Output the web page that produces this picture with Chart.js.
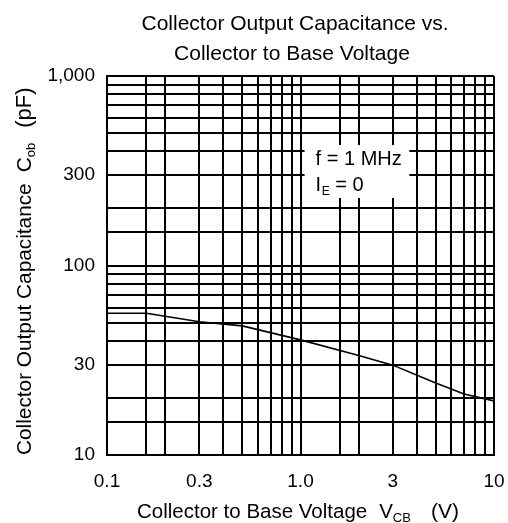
<!DOCTYPE html>
<html>
<head>
<meta charset="utf-8">
<script src="https://cdn.jsdelivr.net/npm/chart.js@4"></script>
<style>
  html, body { margin: 0; padding: 0; background: #fff; }
  #wrap { width: 508px; height: 523px; position: relative; }
</style>
</head>
<body>
<div id="wrap"><canvas id="c" width="508" height="523"></canvas></div>
<script>
// ---- data ----
const vcbVolts = [0.1, 0.16, 0.3, 0.5, 1.0, 2, 3, 5, 7, 10];
const cobPicofarads = [56, 56, 50.5, 48, 40.5, 33.5, 29.8, 24, 21, 19.3];

const xGridValues = [0.1, 0.16, 0.2, 0.3, 0.4, 0.5, 0.6, 0.7, 0.8, 0.9, 1, 1.6, 2, 3, 4, 5, 6, 7, 8, 9, 10];
const xLabelValues = [0.1, 0.3, 1, 3, 10];
const xLabelTexts = ['0.1', '0.3', '1.0', '3', '10'];

const yGridValues = [10, 15, 20, 30, 40, 50, 60, 70, 80, 90, 100, 150, 200, 300, 400, 500, 600, 700, 800, 900, 1000];
const yLabelValues = [10, 30, 100, 300, 1000];
const yLabelTexts = ['10', '30', '100', '300', '1,000'];

const titleLines = ['Collector Output Capacitance vs.', 'Collector to Base Voltage'];
const noteLine1 = 'f = 1 MHz';
const noteLine2 = ['I', 'E', ' = 0'];

const FONT = '"Liberation Sans", Arial, sans-serif';

function labelFor(values, texts, v) {
  for (let i = 0; i < values.length; i++) {
    if (Math.abs(values[i] - v) < 1e-9 * Math.max(1, v)) return texts[i];
  }
  return '';
}

const textPlugin = {
  id: 'texts',
  afterDraw(chart) {
    const ctx = chart.ctx;
    const xs = chart.scales.x, ys = chart.scales.y;
    ctx.save();
    ctx.fillStyle = '#000';
    // main title
    ctx.font = '21px ' + FONT;
    ctx.textAlign = 'center';
    ctx.textBaseline = 'alphabetic';
    ctx.fillText(titleLines[0], 295, 30);
    ctx.fillText(titleLines[1], 292, 60);

    // annotation box
    const bx0 = xs.getPixelForValue(1.05), bx1 = xs.getPixelForValue(3.65);
    const by0 = ys.getPixelForValue(432), by1 = ys.getPixelForValue(227);
    ctx.fillStyle = '#fff';
    ctx.fillRect(bx0, by0, bx1 - bx0, by1 - by0);
    ctx.fillStyle = '#000';
    ctx.textAlign = 'left';
    ctx.font = '20px ' + FONT;
    ctx.fillText(noteLine1, bx0 + 11, by0 + 20);
    let tx = bx0 + 11;
    const ty = by0 + 46;
    ctx.fillText(noteLine2[0], tx, ty);
    tx += ctx.measureText(noteLine2[0]).width + 0.5;
    ctx.font = '12px ' + FONT;
    ctx.fillText(noteLine2[1], tx, ty + 4);
    tx += ctx.measureText(noteLine2[1]).width;
    ctx.font = '20px ' + FONT;
    ctx.fillText(noteLine2[2], tx, ty);

    // x axis title
    let x = 137; const yb = 518;
    const seg = (t, f, dy) => { ctx.font = f + 'px ' + FONT; ctx.fillText(t, x, yb + dy); x += ctx.measureText(t).width; };
    seg('Collector to Base Voltage', 20.5, 0);
    x += 12;
    seg('V', 20.5, 0);
    seg('CB', 13, 4);
    x += 20;
    seg('(V)', 21, 0);

    // y axis title (rotated)
    ctx.save();
    ctx.translate(31, 455);
    ctx.rotate(-Math.PI / 2);
    x = 0;
    const seg2 = (t, f, dy) => { ctx.font = f + 'px ' + FONT; ctx.fillText(t, x, dy); x += ctx.measureText(t).width; };
    seg2('Collector Output Capacitance', 20.8, 0);
    x += 11;
    seg2('C', 21, 0);
    seg2('ob', 13, 4);
    x += 15;
    seg2('(pF)', 22, 0);
    ctx.restore();
    ctx.restore();
  }
};

new Chart(document.getElementById('c'), {
  type: 'scatter',
  data: {
    datasets: [{
      data: vcbVolts.map((v, i) => ({ x: v, y: cobPicofarads[i] })),
      showLine: true,
      borderColor: '#000',
      borderWidth: 1.6,
      pointRadius: 0,
      tension: 0,
      fill: false
    }]
  },
  options: {
    responsive: false,
    animation: false,
    devicePixelRatio: 1,
    layout: { padding: { top: 76, right: 14, left: 0, bottom: 0 } },
    plugins: { legend: { display: false }, title: { display: false }, tooltip: { enabled: false } },
    scales: {
      x: {
        type: 'logarithmic',
        min: 0.1, max: 10,
        afterBuildTicks: s => { s.ticks = xGridValues.map(v => ({ value: v })); },
        afterFit: s => { s.height = 68; s.paddingLeft = 0; s.paddingRight = 0; },
        grid: { color: '#000', lineWidth: 2, drawTicks: false },
        border: { display: true, color: '#000', width: 2 },
        ticks: {
          autoSkip: false, maxRotation: 0, minRotation: 0,
          padding: 15,
          color: '#000',
          font: { family: FONT, size: 19 },
          callback: v => labelFor(xLabelValues, xLabelTexts, v)
        }
      },
      y: {
        type: 'logarithmic',
        min: 10, max: 1000,
        afterBuildTicks: s => { s.ticks = yGridValues.map(v => ({ value: v })); },
        afterFit: s => { s.width = 107; s.paddingTop = 0; s.paddingBottom = 0; },
        grid: { color: '#000', lineWidth: 2, drawTicks: false },
        border: { display: true, color: '#000', width: 2 },
        ticks: {
          autoSkip: false,
          padding: 12,
          color: '#000',
          font: { family: FONT, size: 19 },
          callback: v => labelFor(yLabelValues, yLabelTexts, v)
        }
      }
    }
  },
  plugins: [textPlugin]
});
</script>
</body>
</html>
